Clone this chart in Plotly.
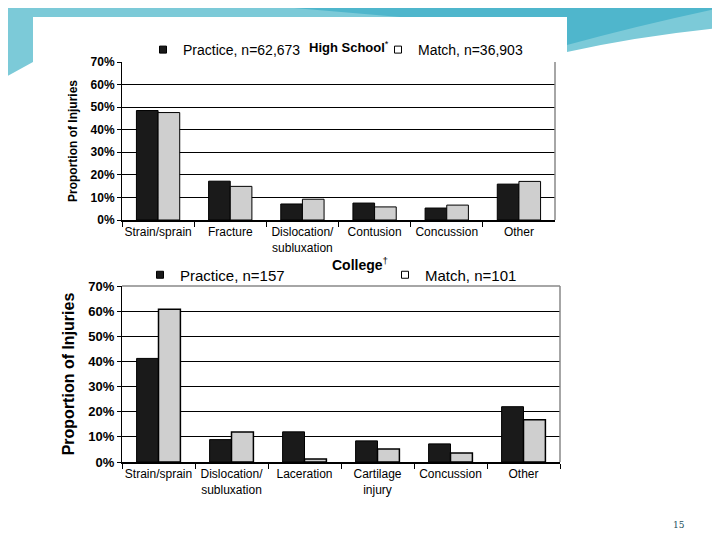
import plotly.graph_objects as go

W, H = 720, 540
OFF = 8  # page margin of the browser body

# ---------------- data ----------------
hs_categories = ["Strain/sprain", "Fracture", "Dislocation/<br>subluxation", "Contusion", "Concussion", "Other"]
hs_practice = [48.5, 17.2, 7.1, 7.5, 5.3, 15.9]
hs_match = [47.6, 14.9, 9.2, 5.8, 6.6, 17.1]
hs_practice_name = "Practice, n=62,673"
hs_match_name = "Match, n=36,903"

col_categories = ["Strain/sprain", "Dislocation/<br>subluxation", "Laceration", "Cartilage<br>injury", "Concussion", "Other"]
col_practice = [41.2, 8.9, 12.0, 8.4, 7.2, 22.0]
col_match = [60.8, 11.9, 1.2, 5.2, 3.6, 16.8]
col_practice_name = "Practice, n=157"
col_match_name = "Match, n=101"

y_ticks = [0, 10, 20, 30, 40, 50, 60, 70]
y_ticklabels = ["0%", "10%", "20%", "30%", "40%", "50%", "60%", "70%"]

FONT = "Liberation Sans, Arial, sans-serif"
DARK = "#1a1a1a"
LIGHT = "#cfcfcf"

FW, FH = W - OFF, H - OFF


def px(x):
    return (x - OFF) / FW


def py(y):
    return 1 - (y - OFF) / FH


fig = go.Figure()

fig.add_trace(go.Bar(x=hs_categories, y=hs_practice, name=hs_practice_name,
                     marker=dict(color=DARK, line=dict(color="black", width=1)),
                     xaxis="x", yaxis="y", legendgroup="hsp", showlegend=False))
fig.add_trace(go.Bar(x=hs_categories, y=hs_match, name=hs_match_name,
                     marker=dict(color=LIGHT, line=dict(color="black", width=1)),
                     xaxis="x", yaxis="y", legendgroup="hsm", showlegend=False))
fig.add_trace(go.Bar(x=col_categories, y=col_practice, name=col_practice_name,
                     marker=dict(color=DARK, line=dict(color="black", width=1)),
                     xaxis="x2", yaxis="y2", legendgroup="cp", showlegend=False))
fig.add_trace(go.Bar(x=col_categories, y=col_match, name=col_match_name,
                     marker=dict(color=LIGHT, line=dict(color="black", width=1.5)),
                     xaxis="x2", yaxis="y2", legendgroup="cm", showlegend=False))

# legend entries with small square symbols (as in the original figure)
for name, fill, grp, leg, ax in [
    (hs_practice_name, DARK, "hsp", "legend", ("x", "y")),
    (hs_match_name, "white", "hsm", "legend", ("x", "y")),
    (col_practice_name, DARK, "cp", "legend2", ("x2", "y2")),
    (col_match_name, "white", "cm", "legend2", ("x2", "y2")),
]:
    fig.add_trace(go.Scatter(x=[None], y=[None], mode="markers", name=name,
                             marker=dict(symbol="square", size=7, color=fill,
                                         line=dict(color="black", width=1)),
                             xaxis=ax[0], yaxis=ax[1], legendgroup=grp, legend=leg,
                             showlegend=True, hoverinfo="skip"))

xcommon = dict(showline=True, linecolor="black", linewidth=1.5, ticks="outside",
               tickson="boundaries", ticklen=5, tickcolor="black", showgrid=False,
               fixedrange=True, color="black", tickangle=0, automargin=False)
ycommon = dict(range=[0, 70], tickvals=y_ticks, ticktext=y_ticklabels,
               showline=True, linecolor="black", linewidth=1, ticks="outside",
               ticklen=4, tickcolor="black", showgrid=True, gridcolor="black",
               gridwidth=1, zeroline=False, color="black", automargin=False)

fig.update_layout(
    width=FW, height=FH,
    margin=dict(l=0, r=0, t=0, b=0, autoexpand=False),
    paper_bgcolor="white", plot_bgcolor="white",
    barmode="group", bargap=0.4, bargroupgap=0,
    font=dict(family=FONT, color="black"),
    xaxis=dict(domain=[px(122), px(555)], anchor="y",
               tickfont=dict(size=12), **xcommon),
    yaxis=dict(domain=[py(220), py(62)], anchor="x",
               tickfont=dict(size=12, family="Liberation Sans, Arial", weight="bold"),
               title=dict(text="<b>Proportion of Injuries</b>", font=dict(size=12), standoff=10),
               **ycommon),
    xaxis2=dict(domain=[px(122), px(560)], anchor="y2",
                tickfont=dict(size=12), **xcommon),
    yaxis2=dict(domain=[py(462), py(286)], anchor="x2",
                tickfont=dict(size=13, family="Liberation Sans, Arial", weight="bold"),
                title=dict(text="<b>Proportion of Injuries</b>", font=dict(size=16), standoff=9),
                **ycommon),
    legend=dict(orientation="h", x=px(143), y=py(50), xanchor="left", yanchor="middle",
                entrywidth=190, entrywidthmode="pixels", itemwidth=30,
                font=dict(size=14), bgcolor="rgba(0,0,0,0)", traceorder="normal"),
    legend2=dict(orientation="h", x=px(140), y=py(275), xanchor="left", yanchor="middle",
                 entrywidth=200, entrywidthmode="pixels", itemwidth=30,
                 font=dict(size=15), bgcolor="rgba(0,0,0,0)", traceorder="normal"),
)

shapes = []
# slide decoration (teal swoosh) and white image card
shapes.append(dict(type="path", xref="paper", yref="paper", layer="below",
                   path=f"M {px(0)},{py(0)} L {px(720)},{py(0)} L {px(720)},{py(28)} "
                        f"Q {px(640)},{py(36)} {px(567)},{py(52)} L {px(33)},{py(62)} "
                        f"L {px(0)},{py(80)} Z",
                   fillcolor="#7ccad8", line=dict(width=0)))
shapes.append(dict(type="path", xref="paper", yref="paper", layer="below",
                   path=f"M {px(200)},{py(0)} L {px(720)},{py(0)} L {px(720)},{py(8)} "
                        f"Q {px(640)},{py(25)} {px(567)},{py(45)} L {px(400)},{py(17)} Z",
                   fillcolor="#4fb6cc", line=dict(width=0)))
shapes.append(dict(type="rect", xref="paper", yref="paper", layer="below",
                   x0=px(33), x1=px(567), y0=py(505), y1=py(17),
                   fillcolor="white", line=dict(width=0)))
# right / top borders of plot areas (gray)
shapes.append(dict(type="line", xref="x domain", yref="y domain", x0=1, x1=1, y0=0, y1=1,
                   line=dict(color="#888888", width=1.5)))
shapes.append(dict(type="line", xref="x2 domain", yref="y2 domain", x0=1, x1=1, y0=0, y1=1,
                   line=dict(color="#888888", width=1.5)))
shapes.append(dict(type="line", xref="x2 domain", yref="y2 domain", x0=0, x1=1, y0=1, y1=1,
                   line=dict(color="#888888", width=1.5)))
fig.update_layout(shapes=shapes)

fig.add_annotation(text="<b>High School</b><sup>*</sup>", xref="paper", yref="paper",
                   x=px(349), y=py(37), showarrow=False, font=dict(size=13, color="black"))
fig.add_annotation(text="<b>College</b><sup>†</sup>", xref="paper", yref="paper",
                   x=px(360), y=py(264), showarrow=False, font=dict(size=14, color="black"))
fig.add_annotation(text="15", xref="paper", yref="paper", x=px(687), y=py(532),
                   showarrow=False, font=dict(size=9, color="#1d4f5c", family="DejaVu Serif"))

fig.write_html("out.html")
